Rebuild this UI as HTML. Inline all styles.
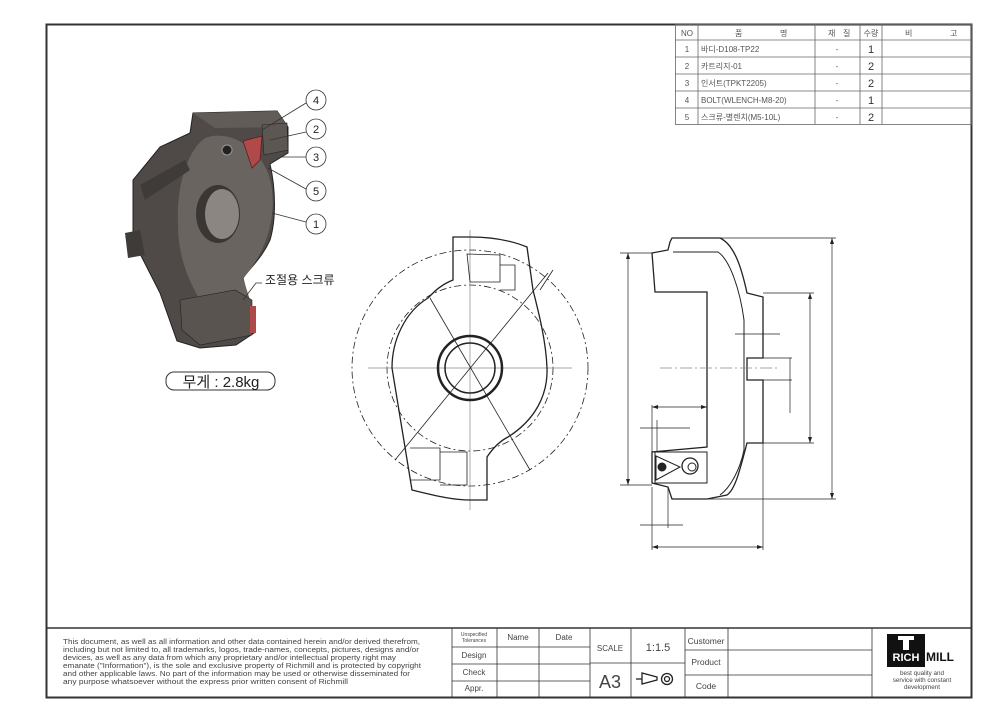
<!DOCTYPE html>
<html><head><meta charset="utf-8"><style>
html,body{margin:0;padding:0;background:#fff;}
svg{display:block;font-family:"Liberation Sans","Noto Sans CJK KR",sans-serif;}
</style></head><body>
<svg width="983" height="720" viewBox="0 0 983 720" xmlns="http://www.w3.org/2000/svg">
<rect x="0" y="0" width="983" height="720" fill="#fff"/>
<rect x="46.5" y="24.5" width="925" height="673" fill="none" stroke="#333" stroke-width="2"/>

<!-- parts table -->
<g stroke="#666" stroke-width="0.8" fill="none">
<rect x="675.5" y="24.5" width="296" height="100"/>
<line x1="675" y1="40" x2="972" y2="40"/><line x1="675" y1="57" x2="972" y2="57"/>
<line x1="675" y1="74" x2="972" y2="74"/><line x1="675" y1="91" x2="972" y2="91"/>
<line x1="675" y1="108" x2="972" y2="108"/>
<line x1="698" y1="24" x2="698" y2="124"/><line x1="815" y1="24" x2="815" y2="124"/>
<line x1="860" y1="24" x2="860" y2="124"/><line x1="882" y1="24" x2="882" y2="124"/>
</g>
<g font-size="8" fill="#555">
<text x="687" y="36" text-anchor="middle">NO</text>
<text x="735" y="36">품</text><text x="780" y="36">명</text>
<text x="828" y="36">재</text><text x="843" y="36">질</text>
<text x="871" y="36" text-anchor="middle">수량</text>
<text x="905" y="36">비</text><text x="950" y="36">고</text>
<text x="687" y="52" text-anchor="middle">1</text><text x="701" y="52">바디-D108-TP22</text>
<text x="687" y="69" text-anchor="middle">2</text><text x="701" y="69">카트리지-01</text>
<text x="687" y="86" text-anchor="middle">3</text><text x="701" y="86">인서트(TPKT2205)</text>
<text x="687" y="103" text-anchor="middle">4</text><text x="701" y="103">BOLT(WLENCH-M8-20)</text>
<text x="687" y="120" text-anchor="middle">5</text><text x="701" y="120">스크류-별렌치(M5-10L)</text>
<text x="837" y="52" text-anchor="middle">-</text><text x="837" y="69" text-anchor="middle">-</text>
<text x="837" y="86" text-anchor="middle">-</text><text x="837" y="103" text-anchor="middle">-</text>
<text x="837" y="120" text-anchor="middle">-</text>
</g>
<g font-size="11" fill="#333" text-anchor="middle">
<text x="871" y="53">1</text><text x="871" y="70">2</text><text x="871" y="87">2</text>
<text x="871" y="104">1</text><text x="871" y="121">2</text>
</g>

<!-- 3D part -->
<g>
<path d="M193,113 L277,111 L288,127 L288,153 L270,164 C276,190 276,220 270,240 C262,258 250,268 243,278 L250,307 L254,333 L236,345 L200,348 L177,341 L160,293 L133,240 L133,180 L160,147 L190,133 Z" fill="#4f4a47" stroke="#222" stroke-width="1"/>
<path d="M205,138 C230,128 268,150 272,190 C276,225 262,258 243,278 L250,300 L200,300 C188,280 178,255 178,225 C176,185 188,150 205,138 Z" fill="#6a6461"/>
<path d="M140,185 L185,160 L190,170 L145,200 Z" fill="#3f3b39"/>
<ellipse cx="218" cy="214" rx="22" ry="29" fill="#3a3634"/>
<ellipse cx="222" cy="214" rx="17" ry="25" fill="#8c8682"/>
<path d="M193,113 L277,111 L288,127 L215,128 Z" fill="#625c59"/>
<path d="M243,141 L262,136 L260,160 L252,168 Z" fill="#b04a4a" stroke="#5a1e1e" stroke-width="0.8"/>
<path d="M262,125 L287,123 L288,150 L264,155 Z" fill="#5d5754" stroke="#222" stroke-width="0.6"/>
<circle cx="227" cy="150" r="5" fill="#222" stroke="#999" stroke-width="1"/>
<path d="M180,300 L235,290 L252,300 L252,335 L200,345 L182,330 Z" fill="#5a5451" stroke="#222" stroke-width="0.6"/>
<rect x="250" y="306" width="6" height="27" fill="#b04a4a"/>
<path d="M125,233 L140,230 L145,255 L128,258 Z" fill="#3f3b39"/>
</g>
<!-- balloons -->
<g stroke="#333" stroke-width="0.8" fill="#fff">
<line x1="306" y1="103" x2="262" y2="130"/>
<line x1="306" y1="132" x2="270" y2="140"/>
<line x1="306" y1="157" x2="282" y2="157"/>
<line x1="306" y1="189" x2="268" y2="168"/>
<line x1="306" y1="222" x2="272" y2="213"/>
<polyline points="262,283 256,283 243,300" fill="none"/>
<circle cx="316" cy="100" r="10"/><circle cx="316" cy="129" r="10"/>
<circle cx="316" cy="157" r="10"/><circle cx="316" cy="191" r="10"/>
<circle cx="316" cy="224" r="10"/>
</g>
<g font-size="11" fill="#222" text-anchor="middle">
<text x="316" y="104">4</text><text x="316" y="133">2</text><text x="316" y="161">3</text>
<text x="316" y="195">5</text><text x="316" y="228">1</text>
</g>
<text x="265" y="284" font-size="12" fill="#222">조절용 스크류</text>
<rect x="166" y="372" width="109" height="18" rx="8" fill="none" stroke="#333" stroke-width="1"/>
<text x="221" y="387" font-size="15" fill="#222" text-anchor="middle">무게 : 2.8kg</text>

<!-- front view -->
<g fill="none" stroke="#222">
<circle cx="470" cy="368" r="118" stroke-dasharray="7,3,2,3" stroke-width="0.8"/>
<circle cx="470" cy="368" r="83" stroke-dasharray="7,3,2,3" stroke-width="0.8"/>
<g stroke="#888" stroke-width="0.7"><line x1="368" y1="368" x2="572" y2="368"/><line x1="470" y1="230" x2="470" y2="510"/></g>
<path d="M453,237 L453,280 C440,285 433,293 428,298 C405,312 392,340 392,368 L412,490 C440,497 455,500 470,500 L487,500 L487,457 C495,445 502,440 508,437 C535,420 548,395 547,368 C546,340 538,310 533,290 L527,247 C510,240 490,237 470,237 Z" stroke-width="1.3"/>
<circle cx="470" cy="368" r="32" stroke-width="2.5"/>
<circle cx="470" cy="368" r="25" stroke-width="1.5"/>
<g stroke-width="0.8">
<line x1="430" y1="298" x2="530" y2="470"/><line x1="548" y1="273" x2="395" y2="460"/>
<line x1="553" y1="270" x2="540" y2="290"/>
<path d="M467,254 L470,282 L500,282 L500,255 Z"/><path d="M500,265 L515,265 L515,290 L500,290"/>
<path d="M410,448 L440,448 L440,480 L410,480"/><path d="M440,452 L467,452 L467,485 L440,485"/>
</g>
</g>

<!-- side view -->
<g fill="none" stroke="#222">
<path d="M672,238 L720,238 C735,245 742,270 747,293 L763,297 L763,358 L747,358 L747,380 L763,380 L763,443 L747,443 C740,470 735,490 727,495 L707,499 L672,499 L668,487 L652,483 L652,452 L707,447 L707,292 L672,292 L655,292 L652,253 L668,250 L670,242 Z" stroke-width="1.3"/>
<path d="M673,252 L718,252 C730,260 740,290 744,320 L744,450 C740,470 730,488 720,495" stroke-width="1"/>
<rect x="655" y="452" width="52" height="31" stroke-width="1"/>
<path d="M656,456 L680,467 L656,480 Z" stroke-width="1"/>
<circle cx="662" cy="467" r="4" fill="#222"/>
<circle cx="690" cy="466" r="8" stroke-width="1.3"/><circle cx="692" cy="467" r="4"/>
<g stroke-width="0.7">
<line x1="720" y1="238" x2="836" y2="238"/><line x1="832" y1="238" x2="832" y2="499"/><line x1="707" y1="499" x2="836" y2="499"/>
<line x1="763" y1="293" x2="814" y2="293"/><line x1="810" y1="293" x2="810" y2="443"/><line x1="763" y1="443" x2="814" y2="443"/>
<line x1="620" y1="253" x2="652" y2="253"/><line x1="628" y1="253" x2="628" y2="485"/><line x1="620" y1="485" x2="652" y2="485"/>
<line x1="652" y1="487" x2="652" y2="550"/><line x1="763" y1="443" x2="763" y2="550"/><line x1="652" y1="547" x2="763" y2="547"/>
<line x1="652" y1="407" x2="707" y2="407"/><line x1="652" y1="405" x2="652" y2="452"/>
<line x1="640" y1="428" x2="690" y2="428"/><line x1="657" y1="420" x2="657" y2="452"/>
<line x1="640" y1="525" x2="683" y2="525"/><line x1="668" y1="487" x2="668" y2="528"/>
<line x1="735" y1="334" x2="780" y2="334"/>
<line x1="747" y1="358" x2="792" y2="358"/><line x1="747" y1="380" x2="792" y2="380"/><line x1="790" y1="358" x2="790" y2="413"/>
<line x1="660" y1="368" x2="780" y2="368" stroke="#888" stroke-dasharray="12,3,2,3"/>
</g>
<g fill="#222" stroke="none">
<path d="M832,238 l-2,6 h4z"/><path d="M832,499 l-2,-6 h4z"/>
<path d="M810,293 l-2,6 h4z"/><path d="M810,443 l-2,-6 h4z"/>
<path d="M628,253 l-2,6 h4z"/><path d="M628,485 l-2,-6 h4z"/>
<path d="M652,547 l6,-2 v4z"/><path d="M763,547 l-6,-2 v4z"/>
<path d="M652,407 l6,-2 v4z"/><path d="M707,407 l-6,-2 v4z"/>
</g>
</g>

<!-- title block -->
<g stroke="#333" fill="none">
<line x1="46" y1="628" x2="972" y2="628" stroke-width="1.5"/>
<g stroke-width="0.8">
<line x1="452" y1="628" x2="452" y2="697"/><line x1="497" y1="628" x2="497" y2="697"/>
<line x1="539" y1="628" x2="539" y2="697"/><line x1="590" y1="628" x2="590" y2="697"/>
<line x1="631" y1="628" x2="631" y2="697"/><line x1="685" y1="628" x2="685" y2="697"/>
<line x1="728" y1="628" x2="728" y2="697"/><line x1="872" y1="628" x2="872" y2="697"/>
<line x1="452" y1="647" x2="590" y2="647"/><line x1="452" y1="664" x2="590" y2="664"/><line x1="452" y1="681" x2="590" y2="681"/>
<line x1="590" y1="663" x2="685" y2="663"/>
<line x1="685" y1="650" x2="872" y2="650"/><line x1="685" y1="675" x2="872" y2="675"/>
</g>
</g>
<g font-size="7.6" fill="#444" lengthAdjust="spacingAndGlyphs">
<text x="63" y="644" textLength="357" lengthAdjust="spacingAndGlyphs">This document, as well as all information and other data contained herein and/or derived therefrom,</text>
<text x="63" y="652" textLength="356" lengthAdjust="spacingAndGlyphs">including but not limited to, all trademarks, logos, trade-names, concepts, pictures, designs and/or</text>
<text x="63" y="660" textLength="333" lengthAdjust="spacingAndGlyphs">devices, as well as any data from which any proprietary and/or intellectual property right may</text>
<text x="63" y="668" textLength="358" lengthAdjust="spacingAndGlyphs">emanate ("Information"), is the sole and exclusive property of Richmill and is protected by copyright</text>
<text x="63" y="676" textLength="347" lengthAdjust="spacingAndGlyphs">and other applicable laws. No part of the information may be used or otherwise disseminated for</text>
<text x="63" y="684" textLength="285" lengthAdjust="spacingAndGlyphs">any purpose whatsoever without the express prior written consent of Richmill</text>
</g>
<g fill="#444" text-anchor="middle">
<text x="474" y="636" font-size="5">Unspecified</text><text x="474" y="642" font-size="5">Tolerances</text>
<text x="518" y="640" font-size="8">Name</text><text x="564" y="640" font-size="8">Date</text>
<text x="474" y="658" font-size="8">Design</text><text x="474" y="675" font-size="8">Check</text><text x="474" y="691" font-size="8">Appr.</text>
<text x="610" y="651" font-size="8">SCALE</text><text x="658" y="651" font-size="11">1:1.5</text>
<text x="610" y="688" font-size="18">A3</text>
<text x="706" y="644" font-size="8.5">Customer</text><text x="706" y="665" font-size="8.5">Product</text><text x="706" y="689" font-size="8.5">Code</text>
</g>
<g fill="none" stroke="#222" stroke-width="1.3">
<path d="M642,673 L642,684 L657,680 L657,677 Z"/><line x1="636" y1="679" x2="642" y2="679"/>
<circle cx="667" cy="679" r="5.5"/><circle cx="667" cy="679" r="2.5"/>
</g>
<rect x="887" y="634" width="38" height="33" fill="#111"/>
<text x="906" y="661" font-size="11" font-weight="bold" fill="#fff" text-anchor="middle">RICH</text>
<rect x="898" y="636" width="16" height="4" fill="#fff"/><rect x="903" y="640" width="6" height="10" fill="#fff"/>
<text x="926" y="661" font-size="12" font-weight="bold" fill="#111">MILL</text>
<g font-size="6.3" fill="#444" text-anchor="middle">
<text x="922" y="675">best quality and</text><text x="922" y="682">service with constant</text><text x="922" y="689">development</text>
</g>
</svg>
</body></html>
